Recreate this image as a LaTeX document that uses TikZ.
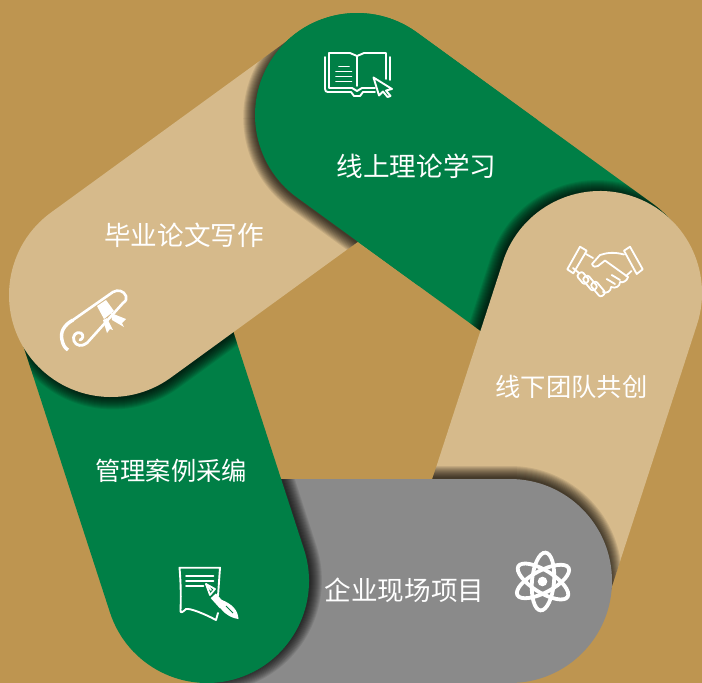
\documentclass[tikz,border=0pt]{standalone}
\usepackage{fontspec}
\newfontfamily\cjk{Noto Sans CJK SC}
\definecolor{bgc}{RGB}{190,149,80}
\definecolor{greenc}{RGB}{0,127,70}
\definecolor{tanc}{RGB}{214,186,139}
\definecolor{greyc}{RGB}{138,138,138}
\tikzset{
  frameAB/.style={shift={(357,115)},rotate=36},
  frameBC/.style={shift={(600,293)},rotate=108},
  frameCD/.style={shift={(510,581)},rotate=180},
  frameDE/.style={shift={(207,581)},rotate=252},
  frameEA/.style={shift={(111,295)},rotate=324},
  lbl/.style={text=white,font=\cjk\fontsize{26.6}{30}\selectfont,inner sep=0pt},
  lblsmall/.style={text=white,font=\cjk\fontsize{25.3}{30}\selectfont,inner sep=0pt},
  ico/.style={draw=white,line width=1.9pt,line cap=round,line join=round},
  icothin/.style={draw=white,line width=1.8pt,line cap=round,line join=round}
}
\newcommand{\pillfill}[2]{\fill[#1] (0,-#2) -- (292,-#2) arc[start angle=-90,end angle=90,radius=#2] -- (0,#2) arc[start angle=90,end angle=270,radius=#2] -- cycle;}
\newcommand{\pillclip}[1]{\clip[#1] (0,-102) -- (292,-102) arc[start angle=-90,end angle=90,radius=102] -- (0,102) arc[start angle=90,end angle=270,radius=102] -- cycle;}
\newcommand{\pillshadow}[1]{\foreach \k in {1,...,12}{\pgfmathsetmacro{\rr}{100+\k}\pillfill{#1,shift={(0,3)},fill=black,opacity=0.085}{\rr}}}
\begin{document}
\begin{tikzpicture}[x=1pt,y=1pt,yscale=-1]
\useasboundingbox (0,0) rectangle (702,683);
\clip (0,0) rectangle (702,683);
\fill[bgc] (0,0) rectangle (702,683);
% pinwheel of five pills
\pillfill{frameAB,greenc}{102}
\begin{scope}\pillclip{frameAB}\pillshadow{frameBC}\end{scope}
\pillfill{frameBC,tanc}{102}
\begin{scope}\pillclip{frameBC}\pillshadow{frameCD}\end{scope}
\pillfill{frameCD,greyc}{102}
\begin{scope}\pillclip{frameCD}\pillshadow{frameDE}\end{scope}
\pillfill{frameDE,greenc}{102}
\begin{scope}\pillclip{frameDE}\pillshadow{frameEA}\end{scope}
\pillfill{frameEA,tanc}{102}
\begin{scope}\pillclip{frameEA}\pillshadow{frameAB}\end{scope}
\begin{scope}
\clip[frameAB] (-120,-120) rectangle (150,120);
\pillfill{frameAB,greenc}{102}
\end{scope}
% labels
\node[lbl] (t1) at (416.5,166) {线上理论学习};
\node[lblsmall] (t2) at (571.5,387) {线下团队共创};
\node[lbl] (t3) at (404.5,590) {企业现场项目};
\node[lblsmall] (t4) at (171,471) {管理案例采编};
\node[lbl] (t5) at (184,235) {毕业论文写作};
% book icon
\draw[ico] (325,57) -- (325,89) .. controls (325,91) and (326,92) .. (328,92) -- (351,92) -- (354,96) -- (360,96) -- (363,92) -- (375,92);
\draw[ico] (390,57) -- (390,80);
\draw[ico] (329,53) -- (329,88) -- (352,88) -- (357,91) -- (362,88) -- (375,88);
\draw[ico] (329,53) -- (350,53) -- (357,56) -- (364,53) -- (386,53) -- (386,79);
\draw[ico] (357,56) -- (357,86);
\draw[ico] (339,66.5) -- (349,66.5) (336,71.5) -- (351.5,71.5) (336,76.5) -- (351.5,76.5) (336,81.5) -- (351.5,81.5);
\draw[ico,fill=greenc] (373.5,77.5) -- (392,89) -- (386,90.5) -- (390.5,96) -- (387.5,97) -- (383,91.5) -- (379,95.5) -- cycle;
% handshake icon
\draw[icothin] (580,246.7) -- (586.7,250.7) -- (573.3,273.3) -- (567.3,269.3) -- cycle;
\draw[icothin] (630,246.7) -- (624,250.7) -- (636.7,274) -- (642.7,269.3) -- cycle;
\draw[icothin] (586,254) -- (593,258);
\draw[icothin] (624,254.5) .. controls (615,252) and (607,252.5) .. (600,255) -- (592,264) .. controls (593,267) and (596,267.5) .. (598,266) -- (605,260.5) -- (628,277);
\draw[icothin] (631.5,271) -- (626,276) (628,277) .. controls (627,281) and (623,283) .. (620,282) .. controls (620,286) and (616,289) .. (611,287) .. controls (611,291) and (607,294) .. (603,292);
\draw[icothin] (611.7,275) -- (620,280) (606.7,279) -- (615,284);
\draw[icothin] (573,268) -- (579,273);
\draw[icothin,rounded corners=2.5pt,rotate around={50:(583,278)}] (577,274.5) rectangle (589,281.5);
\draw[icothin,rounded corners=2.5pt,rotate around={50:(590,283)}] (582,279.5) rectangle (598,286.5);
\draw[icothin,rounded corners=2.5pt,rotate around={50:(598,289)}] (590,285.5) rectangle (606,292.5);
% atom icon
\draw[white,line width=3.8pt] (543,581.5) ellipse[x radius=29,y radius=11,rotate=95];
\draw[white,line width=3.8pt] (543,581.5) ellipse[x radius=29,y radius=11,rotate=32];
\draw[white,line width=3.8pt] (543,581.5) ellipse[x radius=29,y radius=11,rotate=-28];
\fill[white] (542.5,581.5) circle[radius=4.8];
% document and pen icon
\draw[ico] (218,596) -- (220,567.7) -- (179.5,567.7) .. controls (181,585) and (181,600) .. (180.5,610) .. controls (180,614) and (183,612) .. (186,609) .. controls (190,608) and (205,614) .. (216,620) -- (218,613);
\draw[ico] (186,575.7) -- (213.5,575.7) (186,580.7) -- (213.5,580.7) (186,585.7) -- (203.5,585.7);
\draw[icothin,fill=greenc] (206,584) -- (215,589) -- (210,595) -- cycle;
\draw[icothin] (206,584) -- (211,590);
\fill[white,rotate around={48:(218,601)}] (211,597.5) rectangle (225,604.5);
\fill[white] (222,600) .. controls (232,604) and (238,610) .. (238.5,619) .. controls (230,618) and (222,612) .. (218.5,605) -- cycle;
\draw[greenc,line width=1pt] (226,606) -- (233,613);
% diploma icon
\draw[ico,line width=2.6pt] (73,320) -- (113,292) .. controls (118,289) and (124,291) .. (126,296) .. controls (127,299) and (126,301) .. (123,303) -- (87,343);
\draw[ico,line width=3.4pt,line cap=butt] (73,320) .. controls (64,325) and (60,332) .. (62,340) .. controls (63,345) and (65,348) .. (68,350);
\draw[ico,line width=2.8pt] (87,343) .. controls (82,347) and (76,346) .. (74,341) .. controls (72,336) and (76,331) .. (81,333) .. controls (84,335) and (83,339) .. (80,340);
\fill[white] (97,306) -- (106,300) -- (114,311) -- (104,319) -- cycle;
\fill[white] (111,313) -- (126,319) -- (122,323) -- (124,327) -- (112,320) -- cycle;
\fill[white] (107,318) -- (113,330) -- (110,329) -- (107,333) -- (103,320) -- cycle;
\end{tikzpicture}
\end{document}
